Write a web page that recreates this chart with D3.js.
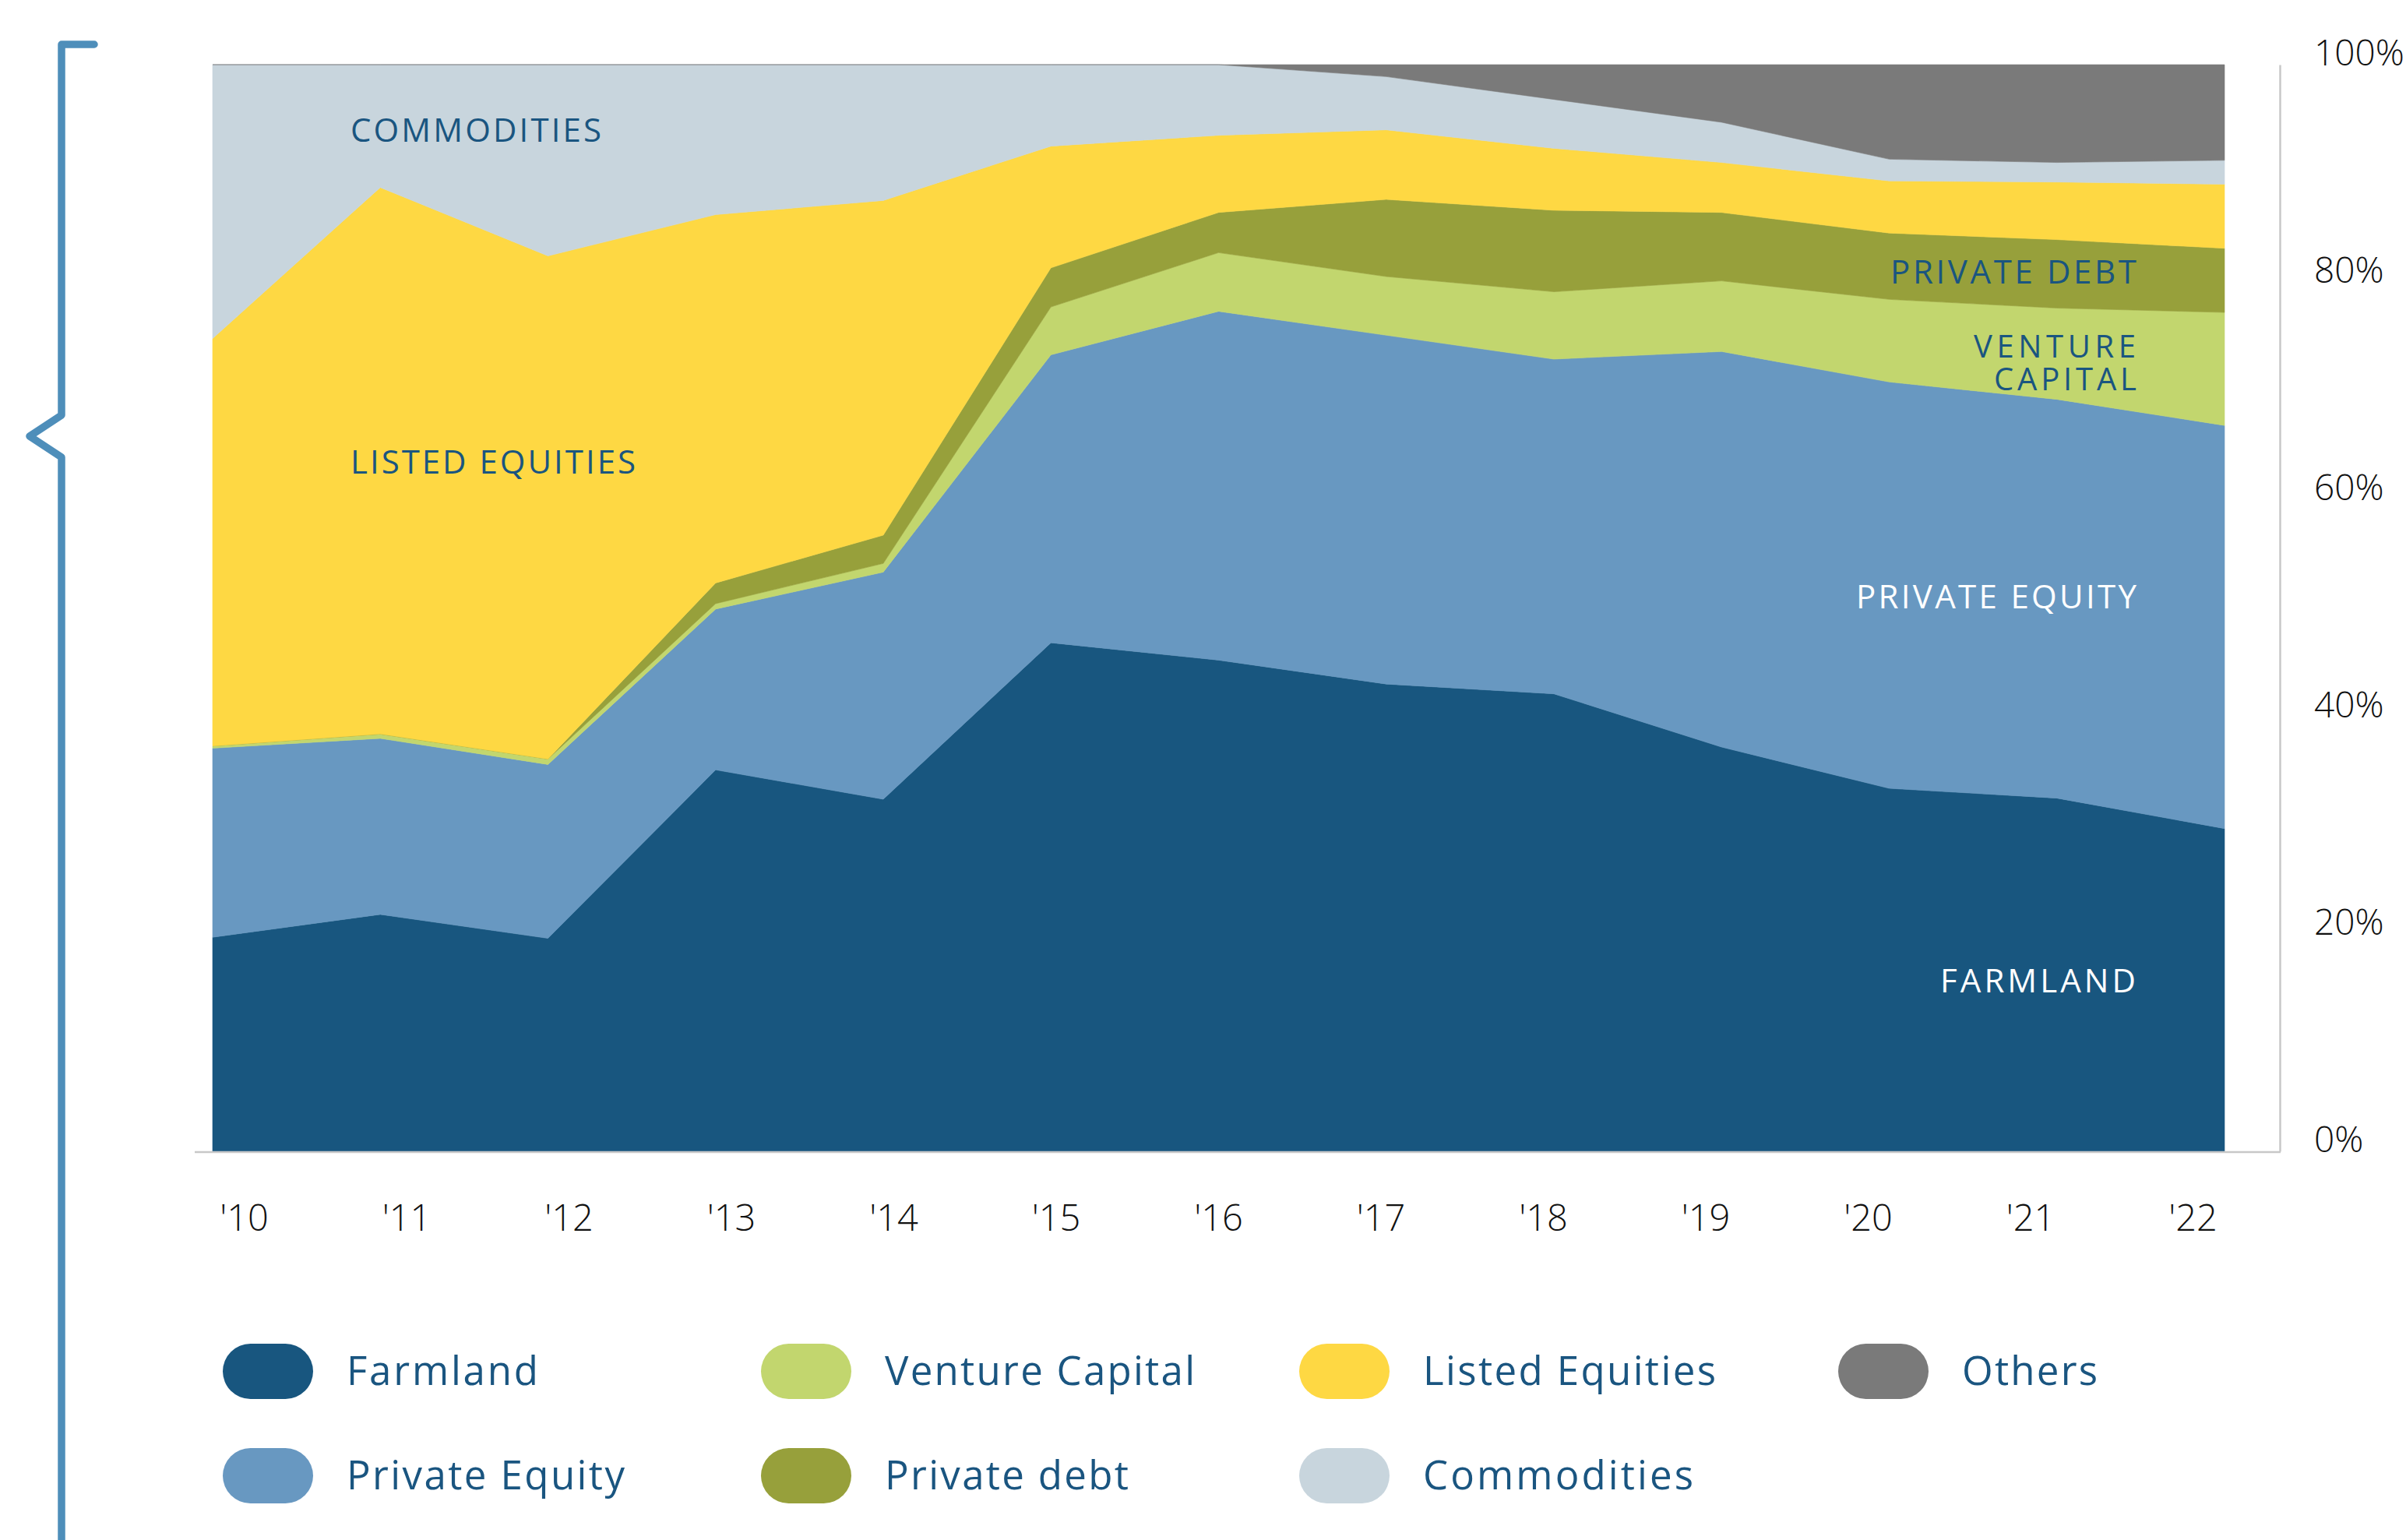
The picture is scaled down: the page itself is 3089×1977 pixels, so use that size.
<!DOCTYPE html>
<html>
<head>
<meta charset="utf-8">
<script src="https://cdn.jsdelivr.net/npm/d3@7"></script>
<style>
  body { margin: 0; background: #fff; }
  text { font-family: "Open Sans", "Lato", sans-serif; }
</style>
</head>
<body>
<div id="chart"></div>
<script>
// shares of the portfolio, % per year
const years = [2010, 2011, 2012, 2013, 2014, 2015, 2016, 2017, 2018, 2019, 2020, 2021, 2022];
const yearLabels = ["'10", "'11", "'12", "'13", "'14", "'15", "'16", "'17", "'18", "'19", "'20", "'21", "'22"];
const farmland       = [19.7, 21.8, 19.6, 35.1, 32.4, 46.8, 45.2, 43.0, 42.1, 37.2, 33.4, 32.5, 29.7];
const privateEquity  = [17.4, 16.2, 16.0, 14.8, 20.9, 26.5, 32.1, 32.1, 30.8, 36.4, 37.4, 36.7, 37.1];
const ventureCapital = [0.2, 0.4, 0.5, 0.5, 0.8, 4.4, 5.4, 5.4, 6.2, 6.5, 7.6, 8.4, 10.4];
const privateDebt    = [0, 0, 0, 1.9, 2.6, 3.6, 3.7, 7.1, 7.5, 6.3, 6.1, 6.3, 5.9];
const listedEquities = [37.5, 50.3, 46.3, 33.9, 30.8, 11.2, 7.1, 6.4, 5.7, 4.6, 4.8, 5.3, 5.9];
const commodities    = [25.2, 11.3, 17.6, 13.8, 12.5, 7.5, 6.5, 4.9, 4.5, 3.7, 2.0, 1.8, 2.2];
const others         = [0, 0, 0, 0, 0, 0, 0, 1.1, 3.2, 5.3, 8.7, 9.0, 8.8];
const yTicks = [0, 20, 40, 60, 80, 100];

const keys = ["Farmland", "Private Equity", "Venture Capital", "Private debt", "Listed Equities", "Commodities", "Others"];
const series = [farmland, privateEquity, ventureCapital, privateDebt, listedEquities, commodities, others];
const colors = ["#18567f", "#6898c1", "#c2d66e", "#97a03b", "#fed843", "#c8d5dd", "#7a7a7a"];

const width = 3089;
const height = 1977;
const textBlue = "#1a5580";

const table = years.map((yr, i) => {
  const row = { year: yr };
  keys.forEach((k, j) => row[k] = series[j][i]);
  return row;
});

const svg = d3.select("#chart")
  .append("svg")
  .attr("width", width)
  .attr("height", height);

const x = d3.scaleLinear()
  .domain(d3.extent(years))
  .range([273, 2856]);

const y = d3.scaleLinear()
  .domain([0, 100])
  .range([1478, 83]);

const color = d3.scaleOrdinal().domain(keys).range(colors);

const stacked = d3.stack().keys(keys)(table);

const area = d3.area()
  .x(d => x(d.data.year))
  .y0(d => y(d[0]))
  .y1(d => y(d[1]));

// stacked areas
svg.append("g")
  .selectAll("path")
  .data(stacked)
  .join("path")
  .attr("fill", d => color(d.key))
  .attr("stroke", d => color(d.key))
  .attr("stroke-width", 0.6)
  .attr("d", area);

// right axis
const yAxis = svg.append("g")
  .attr("transform", "translate(2927,0)")
  .call(d3.axisRight(y).tickValues(yTicks).tickSize(0).tickSizeOuter(0).tickPadding(44).tickFormat(d => d + "%"));
yAxis.select(".domain").attr("stroke", "#c8c8c8").attr("stroke-width", 2.5);
yAxis.selectAll("text")
  .attr("dy", 0)
  .attr("font-size", 46)
  .attr("font-weight", 300)
  .attr("fill", "#111")
  .style("font-family", "'Open Sans', sans-serif");

// bottom axis
const xLab = d3.scalePoint().domain(yearLabels).range([313, 2815]);
const xAxis = svg.append("g")
  .attr("transform", "translate(0,1479)")
  .call(d3.axisBottom(xLab).tickSize(0));
xAxis.select(".domain").remove();
xAxis.selectAll("text")
  .attr("y", 101)
  .attr("dy", 0)
  .attr("font-size", 47)
  .attr("font-weight", 300)
  .attr("fill", "#111")
  .style("font-family", "'Open Sans', sans-serif");
svg.append("line")
  .attr("x1", 250).attr("x2", 2928)
  .attr("y1", 1479).attr("y2", 1479)
  .attr("stroke", "#c8c8c8")
  .attr("stroke-width", 2.5);

// labels inside the areas
const areaLabels = [
  { text: "COMMODITIES", x: 450, y: 182, anchor: "start", len: 322, fill: textBlue, size: 42 },
  { text: "LISTED EQUITIES", x: 450, y: 608, anchor: "start", len: 366, fill: textBlue, size: 42 },
  { text: "PRIVATE DEBT", x: 2743, y: 364, anchor: "end", len: 316, fill: textBlue, size: 42 },
  { text: "VENTURE", x: 2742, y: 459, anchor: "end", len: 208, fill: textBlue, size: 40 },
  { text: "CAPITAL", x: 2743, y: 501, anchor: "end", len: 183, fill: textBlue, size: 40 },
  { text: "PRIVATE EQUITY", x: 2743, y: 781, anchor: "end", len: 360, fill: "#fff", size: 42 },
  { text: "FARMLAND", x: 2742, y: 1274, anchor: "end", len: 251, fill: "#fff", size: 42 }
];
svg.append("g")
  .selectAll("text")
  .data(areaLabels)
  .join("text")
  .attr("x", d => d.x)
  .attr("y", d => d.y)
  .attr("text-anchor", d => d.anchor)
  .attr("textLength", d => d.len)
  .attr("lengthAdjust", "spacing")
  .attr("font-size", d => d.size)
  .attr("fill", d => d.fill)
  .text(d => d.text);

// legend
const legendCols = [286, 977, 1668, 2360];
const legendRows = [1725, 1859];
const legendOrder = ["Farmland", "Venture Capital", "Listed Equities", "Others", "Private Equity", "Private debt", "Commodities"];
const legendLen = { "Farmland": 246, "Venture Capital": 398, "Listed Equities": 376, "Others": 174,
  "Private Equity": 357, "Private debt": 313, "Commodities": 347 };
const legend = svg.append("g")
  .selectAll("g")
  .data(legendOrder)
  .join("g")
  .attr("transform", (d, i) => `translate(${legendCols[i % 4]},${legendRows[Math.floor(i / 4)]})`);
legend.append("rect")
  .attr("width", 116)
  .attr("height", 71)
  .attr("rx", 35.5)
  .attr("fill", d => color(d));
legend.append("text")
  .attr("x", 159)
  .attr("y", 53)
  .attr("font-size", 51)
  .attr("font-weight", 500)
  .attr("fill", textBlue)
  .attr("textLength", d => legendLen[d])
  .attr("lengthAdjust", "spacing")
  .text(d => d);

// bracket on the left
svg.append("path")
  .attr("d", "M121,57 L79,57 L79,533 L38,560 L79,587 L79,1990")
  .attr("fill", "none")
  .attr("stroke", "#4e8eba")
  .attr("stroke-width", 9.5)
  .attr("stroke-linejoin", "round")
  .attr("stroke-linecap", "round");
</script>
</body>
</html>
